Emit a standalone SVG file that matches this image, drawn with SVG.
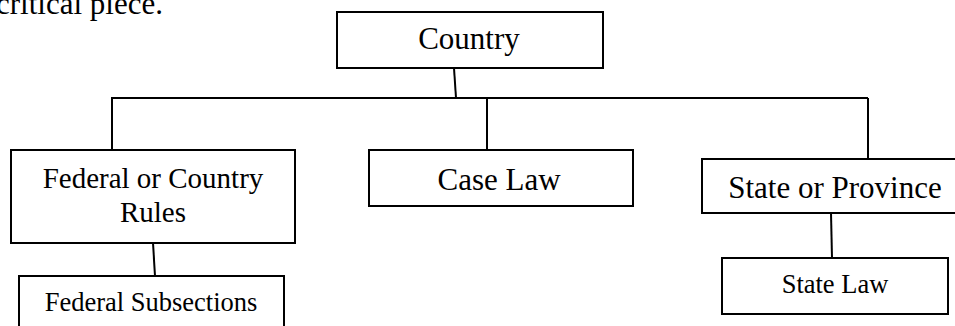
<svg xmlns="http://www.w3.org/2000/svg" width="955" height="326" viewBox="0 0 955 326">
  <style>
    .box { fill: #ffffff; stroke: #000000; stroke-width: 2; }
    .wire { fill: none; stroke: #000000; stroke-width: 2; }
    text { font-family: "Liberation Serif", "Times New Roman", serif; fill: #000000; text-anchor: middle; }
    .big { font-size: 31px; }
    .mid { font-size: 29px; }
    .small { font-size: 26.5px; }
  </style>
  <rect width="955" height="326" fill="#ffffff"/>

  <!-- trailing line of the surrounding paragraph -->
  <text x="-4" y="14" style="font-size:31px;text-anchor:start">critical piece.</text>

  <g id="connectors">
    <line class="wire" x1="454" y1="68" x2="456" y2="98"/>
    <line class="wire" x1="111" y1="98" x2="868" y2="98"/>
    <line class="wire" x1="112" y1="98" x2="112" y2="150"/>
    <line class="wire" x1="487" y1="98" x2="487" y2="150"/>
    <line class="wire" x1="868" y1="98" x2="868" y2="159"/>
    <line class="wire" x1="153" y1="243" x2="155" y2="276"/>
    <line class="wire" x1="831" y1="213" x2="832" y2="258"/>
  </g>

  <g id="country">
    <rect class="box" x="337" y="12" width="266" height="56"/>
    <text class="big" x="469" y="49">Country</text>
  </g>

  <g id="federal-rules">
    <rect class="box" x="11" y="150" width="284" height="93"/>
    <text class="mid" x="153" y="188">Federal or Country</text>
    <text class="mid" x="153" y="222">Rules</text>
  </g>

  <g id="case-law">
    <rect class="box" x="369" y="150" width="264" height="56"/>
    <text class="big" x="499" y="190">Case Law</text>
  </g>

  <g id="state-province">
    <rect class="box" x="702" y="159" width="256" height="54"/>
    <text class="big" x="835" y="198">State or Province</text>
  </g>

  <g id="federal-subsections">
    <rect class="box" x="19" y="276" width="265" height="60"/>
    <text class="small" x="151" y="311">Federal Subsections</text>
  </g>

  <g id="state-law">
    <rect class="box" x="722" y="258" width="226" height="56"/>
    <text class="small" x="835" y="293">State Law</text>
  </g>
</svg>
